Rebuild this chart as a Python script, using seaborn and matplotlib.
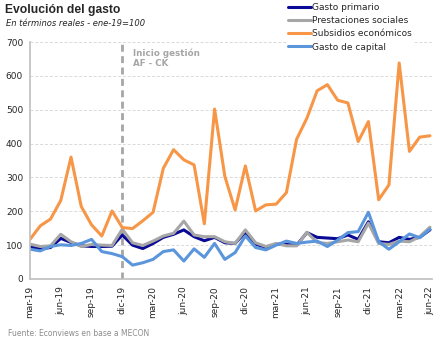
import matplotlib
matplotlib.use("Agg")
import matplotlib.pyplot as plt
import seaborn as sns
import pandas as pd
from matplotlib.lines import Line2D

# ---- data (mar-19 .. jun-22, monthly) ----
meses = ["ene", "feb", "mar", "abr", "may", "jun", "jul", "ago", "sep", "oct", "nov", "dic"]
months = []
for y in (19, 20, 21, 22):
    for m in meses:
        months.append(f"{m}-{y}")
months = months[months.index("mar-19"):months.index("jun-22") + 1]

gasto_primario = [95, 89, 93, 120, 108, 98, 96, 96, 97, 130, 100, 90,
                  105, 123, 132, 145, 125, 113, 123, 107, 105, 138, 103, 93,
                  103, 102, 100, 137, 123, 121, 119, 130, 117, 169, 110, 107,
                  123, 117, 123, 145]
prestaciones = [103, 96, 98, 132, 110, 96, 102, 100, 99, 147, 107, 99,
                112, 127, 135, 171, 130, 125, 125, 110, 105, 145, 107, 96,
                105, 98, 98, 138, 108, 105, 110, 115, 110, 165, 105, 102,
                112, 110, 125, 153]
subsidios = [117, 157, 177, 232, 360, 214, 160, 127, 201, 152, 149, 172,
             197, 327, 382, 352, 337, 163, 502, 303, 204, 334, 201, 219,
             221, 255, 413, 475, 556, 574, 528, 520, 406, 465, 234, 278,
             638, 377, 419, 423]
capital = [88, 83, 96, 101, 99, 105, 117, 81, 75, 66, 41, 48,
           58, 81, 86, 53, 89, 64, 105, 58, 78, 127, 93, 86,
           100, 112, 105, 109, 112, 96, 115, 137, 140, 197, 110, 88,
           110, 133, 122, 147]

series_names = ["Gasto primario", "Prestaciones sociales", "Subsidios económicos", "Gasto de capital"]
series_vals = [gasto_primario, prestaciones, subsidios, capital]
colors = ["#0A0A96", "#A6A6A6", "#F79646", "#5B95DB"]

rows = []
for name, vals in zip(series_names, series_vals):
    for i, v in enumerate(vals):
        rows.append({"idx": i, "mes": months[i], "serie": name, "valor": v})
df = pd.DataFrame(rows)

sns.set_style("white")
plt.rcParams["font.family"] = ["DejaVu Sans"]

fig = plt.figure(figsize=(4.43, 3.40), dpi=100)
ax = fig.add_axes([30 / 443, 1 - 279 / 340, (432 - 30) / 443, (279 - 42) / 340])

sns.lineplot(data=df, x="idx", y="valor", hue="serie", hue_order=series_names,
             palette=colors, linewidth=2.2, ax=ax, legend=False)

ax.set_xlim(0, len(months) - 1 + 0.2)
ax.set_ylim(0, 700)
ax.set_yticks(range(0, 701, 100))
ax.tick_params(axis="y", labelsize=6.5, length=3, width=0.8, color="#BBBBBB", pad=2)
tick_idx = [i for i, m in enumerate(months) if m.split("-")[0] in ("mar", "jun", "sep", "dic")]
ax.set_xticks(tick_idx)
ax.set_xticklabels([months[i] for i in tick_idx], rotation=90, fontsize=6.5)
ax.tick_params(axis="x", length=3, width=0.8, color="#BBBBBB", pad=2)
ax.set_xlabel("")
ax.set_ylabel("")
ax.yaxis.grid(True, linestyle=(0, (3, 2)), color="#D9D9D9", linewidth=0.7)
ax.xaxis.grid(False)
for s in ("top", "right"):
    ax.spines[s].set_visible(False)
for s in ("left", "bottom"):
    ax.spines[s].set_color("#BFBFBF")
    ax.spines[s].set_linewidth(1.2)

# vertical dashed line: start of administration (dic-19)
ax.axvline(months.index("dic-19"), color="#A6A6A6", linestyle=(0, (2.5, 1.6)), linewidth=2.0, zorder=1)
ax.text(months.index("dic-19") + 1.0, 682, "Inicio gestión\nAF - CK", color="#A6A6A6",
        fontsize=6.3, fontweight="bold", va="top", ha="left", linespacing=1.25)

handles = [Line2D([0], [0], color=c, linewidth=2.2) for c in colors]
leg = fig.legend(handles, series_names, loc="upper left", bbox_to_anchor=(287 / 443, 1 - 2 / 340),
                 frameon=True, fontsize=6.5, handlelength=2.5, handletextpad=0.12,
                 labelspacing=0.45, borderpad=0.15, borderaxespad=0)
leg.get_frame().set_edgecolor("white")
leg.get_frame().set_facecolor("white")
leg.get_frame().set_alpha(1)

fig.text(5 / 443, 1 - 4.5 / 340, "Evolución del gasto", fontsize=8.7, fontweight="bold",
         family=["Liberation Sans", "DejaVu Sans"], va="top", ha="left")
fig.text(6 / 443, 1 - 18.5 / 340, "En términos reales - ene-19=100", fontsize=6,
         style="italic", va="top", ha="left")
fig.text(8 / 443, 1 - 329 / 340, "Fuente: Econviews en base a MECON", fontsize=5.5,
         color="#8C8C8C", va="top", ha="left")

fig.savefig("out.png", dpi=100)
